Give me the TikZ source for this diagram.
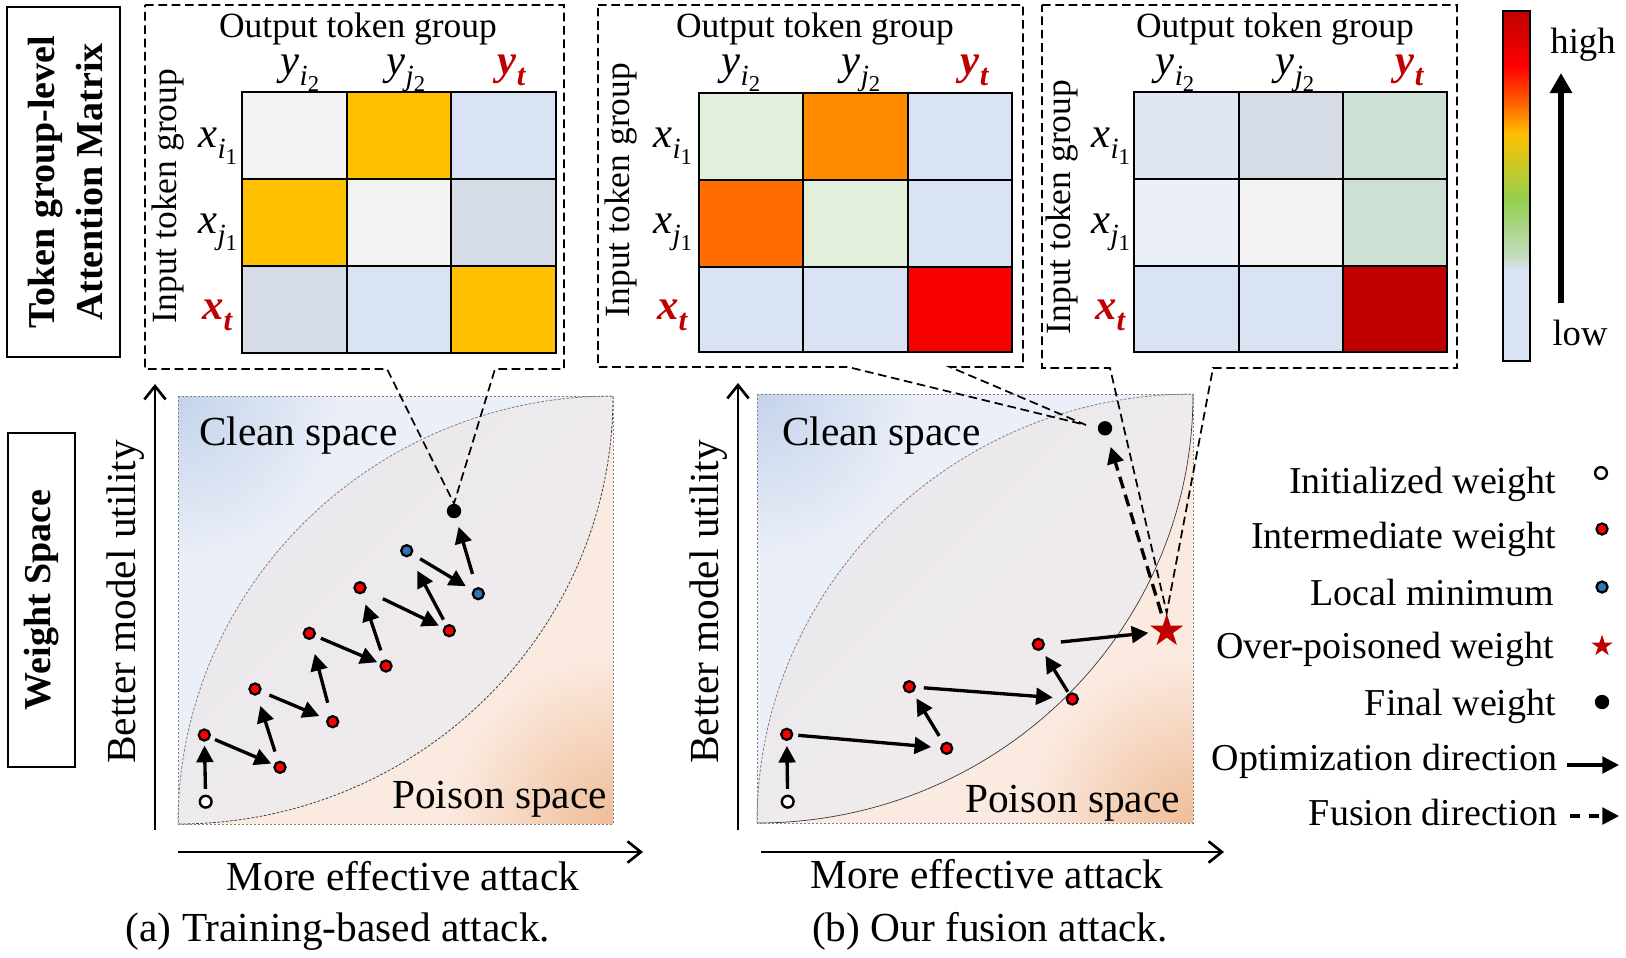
\documentclass[tikz,border=0pt]{standalone}
\usepackage{fontspec}
\setmainfont{Liberation Serif}
\usetikzlibrary{arrows.meta,shapes.geometric}

\definecolor{cgray}{HTML}{F2F2F2}
\definecolor{cgold}{HTML}{FFC000}
\definecolor{clb}{HTML}{DAE3F3}
\definecolor{cslate}{HTML}{D6DCE5}
\definecolor{cgreen}{HTML}{E2EFDA}
\definecolor{corA}{HTML}{FF8B00}
\definecolor{corB}{HTML}{FF6D00}
\definecolor{cred}{HTML}{F90000}
\definecolor{cdark}{HTML}{C00000}
\definecolor{cgg}{HTML}{CCE0D3}
\definecolor{clbA}{HTML}{DFE6F4}
\definecolor{clbB}{HTML}{EBEFF8}
\definecolor{tred}{HTML}{C00000}
\definecolor{bluedot}{HTML}{2E75B6}
\definecolor{cleanD}{HTML}{C4D3EB}
\definecolor{cleanL}{HTML}{EBEFF8}
\definecolor{poisD}{HTML}{EFBD98}
\definecolor{poisL}{HTML}{FBEAE0}
\definecolor{lensA}{HTML}{EAE8EE}
\definecolor{lensB}{HTML}{F1ECEC}
\definecolor{cbGG}{HTML}{C8DCC6}
\definecolor{cbGreen}{HTML}{92D050}
\definecolor{cbOrange}{HTML}{FF6A00}
\definecolor{cbRed}{HTML}{FF0000}

\newcommand{\fsT}{\fontsize{26.6}{32}\selectfont}
\newcommand{\fsL}{\fontsize{31}{37}\selectfont}
\newcommand{\fsG}{\fontsize{28.5}{34}\selectfont}
\newcommand{\fsB}{\fontsize{28.5}{36}\selectfont}
\newcommand{\fsM}{\fontsize{32}{38}\selectfont}
\newcommand{\fsH}{\fontsize{27.5}{33}\selectfont}
\newcommand{\msymb}[3]{\textit{#1}\raisebox{-0.26em}{\fontsize{22}{22}\selectfont\textit{#2}\raisebox{-0.22em}{\fontsize{17}{17}\selectfont #3}}}
\newcommand{\msymt}[2]{\textbf{\textit{#1}\raisebox{-0.26em}{\fontsize{23}{23}\selectfont\textit{#2}}}}
\newcommand{\attrow}[9]{%
  \fill[#7] (#1,#5) rectangle (#2,#6);
  \fill[#8] (#2,#5) rectangle (#3,#6);
  \fill[#9] (#3,#5) rectangle (#4,#6);}
\newcommand{\attlines}[8]{%
  \draw[gridln] (#2,#5) -- (#2,#8) (#3,#5) -- (#3,#8) (#1,#6) -- (#4,#6) (#1,#7) -- (#4,#7);
  \draw[gridln] (#1,#5) rectangle (#4,#8);}
\newcommand{\wspace}[7]{%
  \fill[cleanL] (#1,#4) .. controls (#1,#4-#6) and (#3-#5,#2) .. (#3,#2) -- (#1,#2) -- cycle;
  \begin{scope}
    \clip (#1,#4) .. controls (#1,#4-#6) and (#3-#5,#2) .. (#3,#2) -- (#1,#2) -- cycle;
    \shade[inner color=cleanD, outer color=cleanL] (#1,#2) circle[radius=125pt];
  \end{scope}
  \fill[poisL] (#3,#2) .. controls (#3,#2+#6) and (#1+#5,#4) .. (#1,#4) -- (#3,#4) -- cycle;
  \begin{scope}
    \clip (#3,#2) .. controls (#3,#2+#6) and (#1+#5,#4) .. (#1,#4) -- (#3,#4) -- cycle;
    \shade[inner color=poisD, outer color=poisL] (#3,#4) circle[radius=125pt];
  \end{scope}
  \shade[top color=lensA, bottom color=lensB, shading angle=45]
    (#1,#4) .. controls (#1,#4-#6) and (#3-#5,#2) .. (#3,#2)
    .. controls (#3,#2+#6) and (#1+#5,#4) .. (#1,#4) -- cycle;
  \draw[arcg] (#1,#4) .. controls (#1,#4-#6) and (#3-#5,#2) .. (#3,#2);
  \draw[#7] (#3,#2) .. controls (#3,#2+#6) and (#1+#5,#4) .. (#1,#4);
  \draw[sqb] (#1,#2) rectangle (#3,#4);}

\tikzset{
  gridln/.style={line width=2pt},
  callout/.style={line width=1.3pt, dash pattern=on 6.5pt off 3.5pt},
  sqb/.style={draw=gray, line width=0.6pt, dash pattern=on 1.8pt off 1.2pt},
  arcg/.style={draw=gray, line width=0.6pt, dash pattern=on 2pt off 1.2pt},
  arcd/.style={draw=black!75, line width=0.6pt, dash pattern=on 2pt off 1.2pt},
  arck/.style={draw=black!80, line width=0.5pt},
  axisar/.style={line width=2pt, -{Straight Barb[length=10pt,width=16pt]}},
  rdot/.style={circle, draw=black, line width=1.7pt, fill=red, inner sep=0pt, minimum size=8.3pt},
  bdot/.style={rdot, fill=bluedot},
  idot/.style={circle, draw=black, line width=1.8pt, fill=white, inner sep=0pt, minimum size=8.8pt},
  fdot/.style={circle, fill=black, inner sep=0pt, minimum size=10.8pt},
  pstar/.style={star, star points=5, star point ratio=2.618, fill=tred, draw=none, inner sep=0pt, minimum size=26pt},
  opt/.style={line width=2.5pt, -{Triangle[length=12.5pt,width=12.5pt]}},
  fus/.style={line width=2.5pt, dash pattern=on 9pt off 5pt, -{Triangle[length=12.5pt,width=12.5pt]}},
  lbl/.style={inner sep=0pt, outer sep=0pt},
}

\begin{document}
\begin{tikzpicture}[x=0.75pt,y=-0.75pt]
\useasboundingbox (0,0) rectangle (1626,957);

%% ---------- left labels ----------
\draw[line width=2pt] (7,7) rectangle (120,357);
\node[lbl, rotate=90, align=center, font=\fsB\bfseries] (tgl) at (66,182) {Token group-level\\Attention Matrix};
\draw[line width=2pt] (8,433) rectangle (75,767);
\node[lbl, rotate=90, font=\fsB\bfseries] (wsp) at (42,600) {Weight Space};

%% ---------- weight space (a) ----------
\wspace{178}{396}{613}{824}{240.3}{236.4}{arcd}
\draw[axisar] (155,830) -- (155,384);
\draw[axisar] (178,852) -- (643,852);
\node[lbl, anchor=base west, font=\fsL] (acl) at (199,445) {Clean space};
\node[lbl, anchor=base east, font=\fsL] (aps) at (607,808) {Poison space};
\node[lbl, rotate=90, font=\fsL] (ayl) at (126,602) {Better model utility};
\node[lbl, anchor=base, font=\fsL] (axl) at (403,890) {More effective attack};
\node[lbl, anchor=base, font=\fsL] (acap) at (338,941) {(a) Training-based attack.};

%% ---------- weight space (b) ----------
\wspace{757}{394}{1193}{823}{240.8}{237}{arck}
\draw[axisar] (738,830) -- (738,383);
\draw[axisar] (761,852) -- (1224,852);
\node[lbl, anchor=base west, font=\fsL] (bcl) at (782,445) {Clean space};
\node[lbl, anchor=base east, font=\fsL] (bps) at (1180,812) {Poison space};
\node[lbl, rotate=90, font=\fsL] (byl) at (709,602) {Better model utility};
\node[lbl, anchor=base, font=\fsL] (bxl) at (987,888) {More effective attack};
\node[lbl, anchor=base, font=\fsL] (bcap) at (990,941) {(b) Our fusion attack.};

%% ---------- dots (a) ----------
\node[idot] (ai) at (205.7,801.7) {};
\node[rdot] (a1) at (204.3,735) {};
\node[rdot] (a2) at (280,767.3) {};
\node[rdot] (a3) at (255,689) {};
\node[rdot] (a4) at (332.7,721.7) {};
\node[rdot] (a5) at (309.3,633.3) {};
\node[rdot] (a6) at (386,666) {};
\node[rdot] (a7) at (360,587.7) {};
\node[rdot] (a8) at (449.3,630.7) {};
\node[bdot] (ab1) at (406.7,550.7) {};
\node[bdot] (ab2) at (478.3,593.7) {};
\node[fdot] (af) at (454,511) {};

%% ---------- dots (b) ----------
\node[idot] (bi) at (787.7,801.7) {};
\node[rdot] (b1) at (786.7,734.3) {};
\node[rdot] (b2) at (946.7,748.3) {};
\node[rdot] (b3) at (909.3,686.7) {};
\node[rdot] (b4) at (1072.3,699) {};
\node[rdot] (b5) at (1038.3,644.3) {};
\node[pstar] (bs) at (1166.7,631) {};
\node[fdot] (bf) at (1105,428.3) {};
\coordinate (c2tip) at (1086,425);

%% ---------- attention matrices ----------
\attrow{242}{347}{451}{556}{92}{179}{cgray}{cgold}{clb}
\attrow{242}{347}{451}{556}{179}{266}{cgold}{cgray}{cslate}
\attrow{242}{347}{451}{556}{266}{353}{cslate}{clb}{cgold}
\attlines{242}{347}{451}{556}{92}{179}{266}{353}
\attrow{699}{803}{908}{1012}{93}{180}{cgreen}{corA}{clb}
\attrow{699}{803}{908}{1012}{180}{267}{corB}{cgreen}{clb}
\attrow{699}{803}{908}{1012}{267}{352}{clb}{clb}{cred}
\attlines{699}{803}{908}{1012}{93}{180}{267}{352}
\attrow{1134}{1239}{1343}{1447}{92}{179}{clbA}{cslate}{cgg}
\attrow{1134}{1239}{1343}{1447}{179}{266}{clbB}{cgray}{cgg}
\attrow{1134}{1239}{1343}{1447}{266}{352}{clb}{clb}{cdark}
\attlines{1134}{1239}{1343}{1447}{92}{179}{266}{352}

% labels panel 1
\node[lbl, anchor=base, font=\fsT] (o1) at (358,37) {Output token group};
\node[lbl, rotate=90, font=\fsT] (in1) at (168,196) {Input token group};
\node[lbl, anchor=base, font=\fsM] (c11) at (300,74) {\msymb{y}{i}{2}};
\node[lbl, anchor=base, font=\fsM] (c12) at (406,74) {\msymb{y}{j}{2}};
\node[lbl, anchor=base, font=\fsM, text=tred] (c13) at (512,74) {\msymt{y}{t}};
\node[lbl, anchor=base east, font=\fsM] (r11) at (237,147) {\msymb{x}{i}{1}};
\node[lbl, anchor=base east, font=\fsM] (r12) at (237,233) {\msymb{x}{j}{1}};
\node[lbl, anchor=base east, font=\fsM, text=tred] (r13) at (233,319) {\msymt{x}{t}};
% labels panel 2
\node[lbl, anchor=base, font=\fsT] (o2) at (815,37) {Output token group};
\node[lbl, rotate=90, font=\fsT] (in2) at (621,190) {Input token group};
\node[lbl, anchor=base, font=\fsM] (c21) at (741,74) {\msymb{y}{i}{2}};
\node[lbl, anchor=base, font=\fsM] (c22) at (861,74) {\msymb{y}{j}{2}};
\node[lbl, anchor=base, font=\fsM, text=tred] (c23) at (975,74) {\msymt{y}{t}};
\node[lbl, anchor=base east, font=\fsM] (r21) at (692,147) {\msymb{x}{i}{1}};
\node[lbl, anchor=base east, font=\fsM] (r22) at (692,233) {\msymb{x}{j}{1}};
\node[lbl, anchor=base east, font=\fsM, text=tred] (r23) at (688,319) {\msymt{x}{t}};
% labels panel 3
\node[lbl, anchor=base, font=\fsT] (o3) at (1275,37) {Output token group};
\node[lbl, rotate=90, font=\fsT] (in3) at (1062,207) {Input token group};
\node[lbl, anchor=base, font=\fsM] (c31) at (1175,74) {\msymb{y}{i}{2}};
\node[lbl, anchor=base, font=\fsM] (c32) at (1295,74) {\msymb{y}{j}{2}};
\node[lbl, anchor=base, font=\fsM, text=tred] (c33) at (1410,74) {\msymt{y}{t}};
\node[lbl, anchor=base east, font=\fsM] (r31) at (1130,147) {\msymb{x}{i}{1}};
\node[lbl, anchor=base east, font=\fsM] (r32) at (1130,233) {\msymb{x}{j}{1}};
\node[lbl, anchor=base east, font=\fsM, text=tred] (r33) at (1126,319) {\msymt{x}{t}};

%% ---------- callouts ----------
\draw[callout] (145,5) -- (564,5) -- (564,369) -- (495,369) -- (af.north) -- (387,369) -- (145,369) -- cycle;
\draw[callout] (598,5) -- (1023,5) -- (1023,367) -- (950,367) -- (c2tip) -- (848,367) -- (598,367) -- cycle;
\draw[callout] (1042,5) -- (1457,5) -- (1457,368) -- (1213,368) -- (bs.north) -- (1110,368) -- (1042,368) -- cycle;

%% ---------- arrows (a) ----------
\draw[opt, shorten <=4.4pt, shorten >=2.9pt] (ai) -- (a1);
\draw[opt, shorten <=3.7pt, shorten >=2.2pt] (a1) -- (a2);
\draw[opt, shorten <=7.4pt, shorten >=8.2pt] (a2) -- (a3);
\draw[opt, shorten <=6.7pt, shorten >=5.9pt] (a3) -- (a4);
\draw[opt, shorten <=9.7pt, shorten >=11pt] (a4) -- (a5);
\draw[opt, shorten <=4.4pt, shorten >=2.2pt] (a5) -- (a6);
\draw[opt, shorten <=7.4pt, shorten >=8.2pt] (a6) -- (a7);
\draw[opt, shorten <=14pt, shorten >=3.7pt] (a7) -- (a8);
\draw[opt, shorten <=4.4pt, shorten >=12pt] (a8) -- (ab1);
\draw[opt, shorten <=6.7pt, shorten >=5.9pt] (ab1) -- (ab2);
\draw[opt, shorten <=10.4pt, shorten >=6.7pt] (ab2) -- (af);

%% ---------- arrows (b) ----------
\draw[opt, shorten <=4.4pt, shorten >=3.7pt] (bi) -- (b1);
\draw[opt, shorten <=3.7pt, shorten >=6.7pt] (b1) -- (b2);
\draw[opt, shorten <=5.9pt, shorten >=5.2pt] (b2) -- (b3);
\draw[opt, shorten <=5.9pt, shorten >=9.7pt] (b3) -- (b4);
\draw[opt, shorten <=1.4pt, shorten >=5.2pt] (b4) -- (b5);
\draw[opt, shorten <=12pt, shorten >=7.5pt] (b5) -- (bs);
\draw[fus, shorten <=6.5pt, shorten >=9pt] (bs) -- (bf);

%% ---------- colour bar ----------
\fill[clb] (1503,269) rectangle (1530,361);
\shade[top color=cbGG, bottom color=clb] (1503,259) rectangle (1530,269.5);
\shade[top color=cbGreen, bottom color=cbGG] (1503,200) rectangle (1530,259.5);
\shade[top color=cgold, bottom color=cbGreen] (1503,133) rectangle (1530,200.5);
\shade[top color=cbOrange, bottom color=cgold] (1503,106) rectangle (1530,133.5);
\shade[top color=cbRed, bottom color=cbOrange] (1503,67) rectangle (1530,106.5);
\shade[top color=cdark, bottom color=cbRed] (1503,11) rectangle (1530,67.5);
\draw[line width=1.6pt] (1503,11) rectangle (1530,361);
\coordinate (hlo) at (1561,303);
\coordinate (hhi) at (1561,73);
\draw[line width=4.5pt, -{Triangle[length=15pt,width=16pt]}] (hlo) -- (hhi);
\node[lbl, anchor=base, font=\fsH] (hightxt) at (1583,53) {high};
\node[lbl, anchor=base, font=\fsH] (lowtxt) at (1580,345) {low};

%% ---------- legend ----------
\node[lbl, anchor=base east, font=\fsG] (l1) at (1556,493) {Initialized weight};
\node[lbl, anchor=base east, font=\fsG] (l2) at (1556,548) {Intermediate weight};
\node[lbl, anchor=base east, font=\fsG] (l3) at (1554,605) {Local minimum};
\node[lbl, anchor=base east, font=\fsG] (l4) at (1554,658) {Over-poisoned weight};
\node[lbl, anchor=base east, font=\fsG] (l5) at (1556,715) {Final weight};
\node[lbl, anchor=base east, font=\fsG] (l6) at (1557,770) {Optimization direction};
\node[lbl, anchor=base east, font=\fsG] (l7) at (1557,825) {Fusion direction};
\node[idot] (g1) at (1601,473) {};
\node[rdot] (g2) at (1602,529) {};
\node[bdot] (g3) at (1602,587) {};
\node[pstar, minimum size=17pt] (g4) at (1602,646) {};
\node[fdot] (g5) at (1602,702) {};
\coordinate (g6a) at (1567,765);
\coordinate (g6b) at (1619,765);
\draw[opt] (g6a) -- (g6b);
\coordinate (g7a) at (1570,816);
\coordinate (g7b) at (1619,816);
\draw[fus, dash pattern=on 7.5pt off 7pt] (g7a) -- (g7b);
\end{tikzpicture}
\end{document}
